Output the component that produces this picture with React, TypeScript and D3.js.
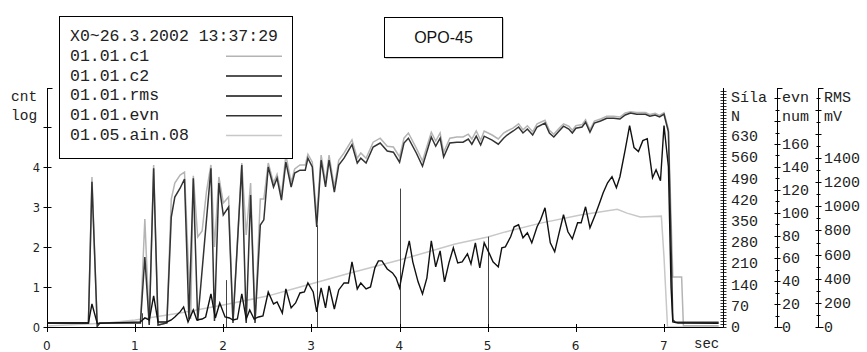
import * as d3 from 'd3';

// time axis (sec) and label ticks
const xTicks = [0, 1, 2, 3, 4, 5, 6, 7];
const cntTicks = [0, 1, 2, 3, 4];
const silaLabels = [0, 70, 140, 210, 280, 350, 420, 490, 560, 630];
const evnLabels = [0, 20, 40, 60, 80, 100, 120, 140, 160];
const rmsLabels = [0, 200, 400, 600, 800, 1000, 1200, 1400];

const legendTitle = 'X0~26.3.2002 13:37:29';
const legendNames = ['01.01.c1', '01.01.c2', '01.01.rms', '01.01.evn', '01.05.ain.08'];
const legendColors = ['#b4b4b4', '#1a1a1a', '#111111', '#333333', '#c8c8c8'];

// 01.01.c1  [sec, cnt log]
const c1: [number, number][] = [
  [0, 0.1], [0.47, 0.1], [0.51, 3.75], [0.57, 0.02], [0.6, 0.1], [1.06, 0.1], [1.11, 2.7], [1.16, 0.05],
  [1.21, 4.05], [1.26, 0.05], [1.36, 0.1], [1.41, 3.2], [1.45, 3.6], [1.51, 3.8], [1.56, 3.87], [1.61, 1.25],
  [1.63, 0.2], [1.66, 3.78], [1.71, 2.25], [1.76, 2.4], [1.81, 3.4], [1.86, 4.05], [1.9, 2.0], [1.95, 3.75],
  [2.0, 3.1], [2.06, 3.25], [2.11, 0.15], [2.21, 4.1], [2.26, 2.3], [2.31, 3.6], [2.36, 0.15], [2.42, 3.2],
  [2.46, 3.2], [2.51, 4.1], [2.57, 3.6], [2.61, 3.82], [2.66, 3.3], [2.71, 4.3], [2.77, 3.62], [2.81, 3.95],
  [2.87, 4.05], [2.93, 4.05], [2.96, 4.32], [3.01, 4.12], [3.06, 2.75], [3.11, 4.3], [3.16, 3.62], [3.2, 4.3],
  [3.26, 3.5], [3.31, 4.17], [3.37, 4.35], [3.46, 4.68], [3.52, 4.22], [3.56, 4.35], [3.62, 4.22], [3.7, 4.62],
  [3.78, 4.72], [3.86, 4.52], [3.93, 4.5], [4.0, 4.25], [4.05, 4.72], [4.1, 4.85], [4.19, 4.47], [4.26, 4.15],
  [4.36, 4.87], [4.41, 4.65], [4.46, 4.85], [4.5, 4.37], [4.57, 4.72], [4.65, 4.75], [4.72, 4.75], [4.78, 4.82],
  [4.82, 4.7], [4.87, 4.9], [4.92, 4.67], [4.96, 4.9], [5.05, 4.8], [5.12, 4.7], [5.18, 4.85], [5.22, 4.9],
  [5.29, 4.98], [5.35, 5.08], [5.4, 4.93], [5.45, 5.03], [5.51, 4.88], [5.56, 5.08], [5.65, 5.17], [5.7, 4.92],
  [5.75, 4.82], [5.81, 4.97], [5.86, 5.08], [5.92, 5.02], [5.96, 4.92], [6.0, 5.03], [6.07, 5.06], [6.11, 5.18],
  [6.16, 4.93], [6.21, 5.15], [6.28, 5.2], [6.35, 5.27], [6.43, 5.27], [6.5, 5.25], [6.56, 5.35], [6.62, 5.38],
  [6.69, 5.36], [6.79, 5.36], [6.84, 5.31], [6.9, 5.34], [6.95, 5.29], [7.0, 5.36], [7.05, 4.95], [7.1, 1.25],
  [7.2, 1.25], [7.22, 0.03], [7.62, 0.03],
];

// 01.01.c2  [sec, cnt log]
const c2: [number, number][] = [
  [0, 0.1], [0.47, 0.1], [0.51, 3.63], [0.57, 0.02], [0.6, 0.1], [1.06, 0.1], [1.11, 1.75], [1.16, 0.05],
  [1.21, 3.97], [1.26, 0.05], [1.36, 0.1], [1.41, 2.75], [1.45, 3.25], [1.51, 3.47], [1.56, 3.7], [1.61, 0.2],
  [1.66, 3.72], [1.71, 0.15], [1.86, 3.97], [1.9, 0.15], [1.95, 3.6], [2.0, 2.8], [2.06, 3.0], [2.11, 0.1],
  [2.21, 4.05], [2.26, 0.1], [2.31, 3.3], [2.36, 0.1], [2.42, 2.55], [2.46, 2.68], [2.51, 4.0], [2.57, 3.5],
  [2.61, 3.72], [2.66, 3.17], [2.71, 4.12], [2.77, 3.5], [2.81, 3.85], [2.87, 3.92], [2.93, 3.92], [2.96, 4.22],
  [3.01, 4.0], [3.06, 2.5], [3.11, 4.17], [3.16, 3.5], [3.2, 4.17], [3.26, 3.37], [3.31, 4.05], [3.37, 4.22],
  [3.46, 4.56], [3.52, 4.1], [3.56, 4.22], [3.62, 4.1], [3.7, 4.5], [3.78, 4.6], [3.86, 4.4], [3.93, 4.37],
  [4.0, 4.12], [4.05, 4.6], [4.1, 4.72], [4.19, 4.35], [4.26, 4.02], [4.36, 4.75], [4.41, 4.52], [4.46, 4.72],
  [4.5, 4.25], [4.57, 4.6], [4.65, 4.62], [4.72, 4.62], [4.78, 4.7], [4.82, 4.57], [4.87, 4.77], [4.92, 4.55],
  [4.96, 4.77], [5.05, 4.67], [5.12, 4.57], [5.18, 4.72], [5.22, 4.8], [5.29, 4.9], [5.35, 5.0], [5.4, 4.85],
  [5.45, 4.95], [5.51, 4.8], [5.56, 5.0], [5.65, 5.1], [5.7, 4.85], [5.75, 4.75], [5.81, 4.9], [5.86, 5.02],
  [5.92, 4.95], [5.96, 4.85], [6.0, 4.97], [6.07, 5.0], [6.11, 5.12], [6.16, 4.87], [6.21, 5.1], [6.28, 5.15],
  [6.35, 5.22], [6.43, 5.22], [6.5, 5.2], [6.56, 5.3], [6.62, 5.35], [6.69, 5.32], [6.79, 5.32], [6.84, 5.27],
  [6.9, 5.3], [6.95, 5.25], [7.0, 5.32], [7.05, 4.88], [7.1, 0.18], [7.13, 0.12], [7.62, 0.12],
];

// 01.01.rms  [sec, mV]
const rms: [number, number][] = [
  [0, 33], [0.47, 33], [0.51, 191], [0.57, 30], [1.06, 42], [1.11, 75], [1.16, 58], [1.21, 257], [1.26, 42],
  [1.36, 42], [1.41, 58], [1.45, 83], [1.51, 125], [1.55, 166], [1.6, 42], [1.66, 141], [1.7, 58], [1.76, 66],
  [1.8, 83], [1.86, 274], [1.91, 75], [1.96, 199], [2.02, 83], [2.07, 75], [2.11, 58], [2.16, 66], [2.21, 274],
  [2.26, 66], [2.3, 141], [2.35, 66], [2.4, 83], [2.45, 91], [2.51, 290], [2.57, 191], [2.61, 208], [2.67, 116],
  [2.71, 315], [2.77, 158], [2.82, 199], [2.87, 282], [2.92, 290], [2.96, 365], [3.02, 290], [3.06, 125],
  [3.11, 324], [3.16, 158], [3.2, 340], [3.26, 149], [3.31, 307], [3.37, 365], [3.42, 365], [3.46, 540],
  [3.52, 315], [3.56, 365], [3.62, 315], [3.67, 332], [3.72, 490], [3.76, 548], [3.8, 548], [3.86, 481],
  [3.92, 448], [3.96, 407], [4.0, 324], [4.06, 556], [4.11, 714], [4.15, 540], [4.21, 374], [4.26, 274],
  [4.31, 407], [4.36, 714], [4.41, 498], [4.46, 631], [4.51, 374], [4.56, 531], [4.61, 656], [4.66, 531],
  [4.71, 540], [4.77, 606], [4.81, 523], [4.86, 697], [4.91, 490], [4.96, 697], [5.02, 606], [5.06, 540],
  [5.12, 498], [5.16, 656], [5.2, 664], [5.26, 747], [5.3, 830], [5.35, 847], [5.4, 739], [5.45, 780],
  [5.5, 697], [5.56, 830], [5.6, 888], [5.65, 988], [5.71, 697], [5.76, 623], [5.81, 780], [5.86, 930],
  [5.91, 789], [5.96, 730], [6.02, 863], [6.06, 863], [6.11, 996], [6.16, 822], [6.22, 930], [6.27, 1029],
  [6.31, 1112], [6.36, 1195], [6.41, 1245], [6.46, 1154], [6.5, 1245], [6.56, 1469], [6.61, 1668], [6.66, 1486],
  [6.71, 1453], [6.76, 1544], [6.81, 1560], [6.87, 1237], [6.91, 1303], [6.96, 1212], [7.0, 1668], [7.05, 1328],
  [7.08, 332], [7.1, 42], [7.16, 33], [7.62, 30],
];

// 01.01.evn  [sec, num] impulses
const evn: [number, number][] = [[1.08, 12], [2.03, 41], [3.06, 89], [4.0, 121], [5.0, 79]];

// 01.05.ain.08  [sec, N]
const ain: [number, number][] = [
  [0, 3], [0.68, 13], [1.0, 23], [1.51, 46], [2.0, 73], [2.5, 102], [2.87, 132], [3.44, 178], [4.0, 221],
  [4.63, 274], [5.0, 297], [5.2, 314], [5.6, 343], [6.05, 370], [6.47, 389], [6.58, 376], [6.73, 363],
  [6.97, 366], [7.0, 231], [7.04, 0], [7.62, 0],
];

const MONO = '"Liberation Mono", "Courier New", monospace';
const SANS = '"DejaVu Sans", Verdana, sans-serif';

export default function App() {
  const W = 867;
  const H = 352;
  const y0 = 327;
  const yTop = 88;

  const x = d3.scaleLinear().domain([0, 7]).range([47, 664]);
  const yCnt = d3.scaleLinear().domain([0, 6]).range([y0, 87]);
  const ySila = d3.scaleLinear().domain([0, 700]).range([y0, 115]);
  const yEvn = d3.scaleLinear().domain([0, 160]).range([y0, 144]);
  const yRms = d3.scaleLinear().domain([0, 1400]).range([y0, 158]);

  const lineOf = (ys: d3.ScaleLinear<number, number>) =>
    d3.line<[number, number]>().x(d => x(d[0])).y(d => ys(d[1]));

  const axL = 47.5;
  const axSila = 723.5;
  const axEvn = 777.5;
  const axRms = 818.5;

  const silaMinor = d3.range(0, ySila.invert(yTop), 10);
  const evnMinor = d3.range(0, yEvn.invert(yTop), 10);
  const rmsMinor = d3.range(0, yRms.invert(yTop), 100);

  return (
    <svg width={W} height={H} style={{ position: 'absolute', left: 0, top: 0, background: '#fff' }}>
      <rect width={W} height={H} fill="#fff" />

      {/* data lines */}
      <path d={lineOf(ySila)(ain) || ''} fill="none" stroke="#c8c8c8" strokeWidth={1.5} />
      <path d={lineOf(yCnt)(c1) || ''} fill="none" stroke="#b4b4b4" strokeWidth={1.5} />
      <path d={lineOf(yCnt)(c2) || ''} fill="none" stroke="#333" strokeWidth={1.5} />
      {evn.map((d, i) => (
        <line key={i} x1={Math.round(x(d[0])) + 0.5} x2={Math.round(x(d[0])) + 0.5}
          y1={y0} y2={yEvn(d[1])} stroke="#444" strokeWidth={1} />
      ))}
      <path d={lineOf(yRms)(rms) || ''} fill="none" stroke="#111" strokeWidth={1.4} />

      {/* bottom axis */}
      <line x1={axL} x2={axSila} y1={y0 + 0.5} y2={y0 + 0.5} stroke="#000" />
      {xTicks.map(t => (
        <g key={t}>
          <line x1={Math.round(x(t)) + 0.5} x2={Math.round(x(t)) + 0.5} y1={y0 - 3} y2={y0 + 5} stroke="#000" />
          <text x={x(t)} y={350} textAnchor="middle" fontFamily={SANS} fontSize={12} fill="#222"
            letterSpacing={0.5}>{t}</text>
        </g>
      ))}
      <text x={694} y={348} fontFamily={MONO} fontSize={14} fill="#222">sec</text>

      {/* left axis */}
      <line x1={axL} x2={axL} y1={yTop} y2={y0} stroke="#000" />
      <line x1={axL} x2={axL + 5} y1={yTop + 0.5} y2={yTop + 0.5} stroke="#000" />
      {[0, 1, 2, 3, 4, 5].map(v => (
        <line key={v} x1={axL - 4} x2={axL + 4} y1={Math.round(yCnt(v)) + 0.5} y2={Math.round(yCnt(v)) + 0.5} stroke="#000" />
      ))}
      {cntTicks.map(v => (
        <text key={v} x={40} y={yCnt(v) + 5} textAnchor="end" fontFamily={SANS} fontSize={11.5} fill="#222">{v}</text>
      ))}
      <text x={11} y={101} fontFamily={MONO} fontSize={14.5} fill="#222">cnt</text>
      <text x={11} y={120} fontFamily={MONO} fontSize={14.5} fill="#222">log</text>

      {/* Síla axis */}
      <line x1={axSila} x2={axSila} y1={yTop} y2={y0} stroke="#000" />
      {silaMinor.map(v => (
        <line key={v} x1={axSila - 3} x2={axSila + 3} y1={Math.round(ySila(v)) + 0.5} y2={Math.round(ySila(v)) + 0.5}
          stroke="#000" strokeWidth={0.8} />
      ))}
      {silaLabels.map(v => (
        <text key={v} x={731} y={ySila(v) + 5} fontFamily={MONO} fontSize={15} fill="#222">{v}</text>
      ))}
      <text x={731} y={102} fontFamily={MONO} fontSize={15} fill="#222">Síla</text>
      <text x={731} y={121} fontFamily={MONO} fontSize={15} fill="#222">N</text>

      {/* evn axis */}
      <line x1={axEvn} x2={axEvn} y1={yTop} y2={y0} stroke="#000" />
      <line x1={axEvn} x2={axEvn + 5} y1={yTop + 0.5} y2={yTop + 0.5} stroke="#000" />
      <line x1={axEvn} x2={axEvn + 5} y1={y0 + 0.5} y2={y0 + 0.5} stroke="#000" />
      {evnMinor.map(v => (
        <line key={v} x1={axEvn - (v % 20 === 0 ? 3 : 2)} x2={axEvn + (v % 20 === 0 ? 3 : 2)}
          y1={Math.round(yEvn(v)) + 0.5} y2={Math.round(yEvn(v)) + 0.5} stroke="#000" />
      ))}
      {evnLabels.map(v => (
        <text key={v} x={782} y={yEvn(v) + 5} fontFamily={MONO} fontSize={15} fill="#222">{v}</text>
      ))}
      <text x={782} y={102} fontFamily={MONO} fontSize={15} fill="#222">evn</text>
      <text x={782} y={121} fontFamily={MONO} fontSize={15} fill="#222">num</text>

      {/* RMS axis */}
      <line x1={axRms} x2={axRms} y1={yTop} y2={y0} stroke="#000" />
      <line x1={axRms} x2={axRms + 5} y1={yTop + 0.5} y2={yTop + 0.5} stroke="#000" />
      <line x1={axRms} x2={axRms + 5} y1={y0 + 0.5} y2={y0 + 0.5} stroke="#000" />
      {rmsMinor.map(v => (
        <line key={v} x1={axRms - (v % 200 === 0 ? 3 : 2)} x2={axRms + (v % 200 === 0 ? 3 : 2)}
          y1={Math.round(yRms(v)) + 0.5} y2={Math.round(yRms(v)) + 0.5} stroke="#000" />
      ))}
      {rmsLabels.map(v => (
        <text key={v} x={824} y={yRms(v) + 5} fontFamily={MONO} fontSize={15} fill="#222">{v}</text>
      ))}
      <text x={824} y={102} fontFamily={MONO} fontSize={15} fill="#222">RMS</text>
      <text x={824} y={121} fontFamily={MONO} fontSize={15} fill="#222">mV</text>

      {/* legend */}
      <rect x={59.5} y={16.5} width={233} height={142} fill="#fff" stroke="#000" />
      <text x={70} y={41} fontFamily={MONO} fontSize={16.5} fill="#222">{legendTitle}</text>
      {legendNames.map((n, i) => {
        const by = 41 + (i + 1) * 19.8;
        return (
          <g key={n}>
            <text x={70} y={by} fontFamily={MONO} fontSize={16.5} fill="#222">{n}</text>
            <line x1={226} x2={282} y1={by - 4.5} y2={by - 4.5} stroke={legendColors[i]} strokeWidth={1.5} />
          </g>
        );
      })}

      {/* title box */}
      <rect x={385.5} y={18.5} width={118} height={40} fill="#999" />
      <rect x={384.5} y={17.5} width={118} height={40} fill="#fff" stroke="#000" />
      <text x={443.5} y={43} textAnchor="middle" fontFamily='"Liberation Sans", Arial, sans-serif' fontSize={16}
        fill="#111">OPO-45</text>
    </svg>
  );
}
